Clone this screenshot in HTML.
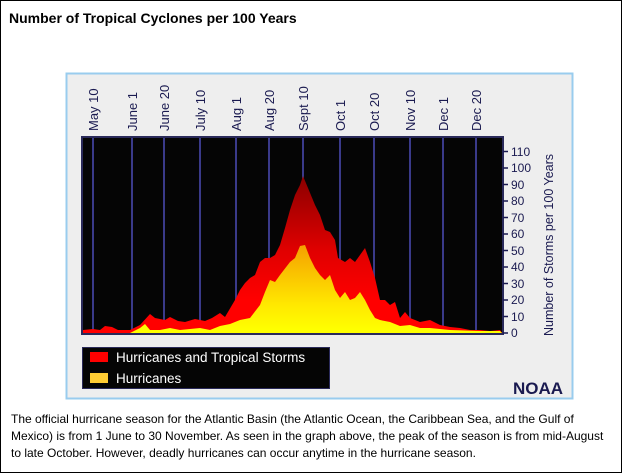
<!DOCTYPE html>
<html><head><style>
body{margin:0;width:622px;height:473px;overflow:hidden;background:#fff;font-family:"Liberation Sans",sans-serif}
#f{position:absolute;left:0;top:0;width:620px;height:471px;border:1px solid #000}
</style></head><body><div id="f"></div>
<svg width="622" height="473" style="position:absolute;left:0;top:0" font-family="Liberation Sans, sans-serif">
<text x="9" y="23" font-size="14" font-weight="bold" fill="#000">Number of Tropical Cyclones per 100 Years</text>
<rect x="66.5" y="73.5" width="506" height="325" fill="#eeeeee" stroke="#99ccee" stroke-width="2"/>
<rect x="82" y="137" width="421" height="197" fill="#050505"/>
<defs>
<linearGradient id="r" gradientUnits="userSpaceOnUse" x1="0" y1="176" x2="0" y2="300"><stop offset="0" stop-color="#8a0000"/><stop offset="0.6" stop-color="#e00000"/><stop offset="1" stop-color="#ff0000"/></linearGradient>
<linearGradient id="y" gradientUnits="userSpaceOnUse" x1="0" y1="245" x2="0" y2="330"><stop offset="0" stop-color="#f5a000"/><stop offset="0.7" stop-color="#ffe800"/><stop offset="1" stop-color="#ffff00"/></linearGradient>
</defs>
<g stroke="#3a3a8a" stroke-width="2">
<line x1="93" y1="137" x2="93" y2="334"/><line x1="132" y1="137" x2="132" y2="334"/><line x1="164" y1="137" x2="164" y2="334"/><line x1="200" y1="137" x2="200" y2="334"/><line x1="236" y1="137" x2="236" y2="334"/><line x1="269" y1="137" x2="269" y2="334"/><line x1="303" y1="137" x2="303" y2="334"/><line x1="340" y1="137" x2="340" y2="334"/><line x1="374" y1="137" x2="374" y2="334"/><line x1="410" y1="137" x2="410" y2="334"/><line x1="443" y1="137" x2="443" y2="334"/><line x1="476" y1="137" x2="476" y2="334"/>
</g>
<polygon fill="url(#r)" points="83,334 83,330 93,329 100,330 105,326 112,327 118,330 130,330 140,325 150,314 155,318 165,320 170,317 178,321 185,322 195,319 205,321 212,318 220,313 225,317 235,300 240,290 245,283 250,278 255,275 260,262 265,258 270,258 275,255 280,245 285,228 290,210 295,195 300,185 303,176 308,188 315,205 320,215 325,230 330,232 335,240 338,258 345,262 350,258 355,262 360,255 365,248 370,262 375,278 380,300 385,300 390,305 395,302 400,318 405,312 410,318 420,322 430,320 440,325 450,327 460,328 470,330 480,330 490,331 500,330 503,334"/>
<polygon fill="url(#y)" points="83,334 130,333 140,328 145,324 150,330 160,330 170,328 180,330 200,328 210,330 220,326 230,324 240,320 250,318 260,305 265,292 270,280 275,282 280,275 290,262 295,258 300,246 305,245 310,258 315,268 320,275 325,280 330,275 335,290 340,298 345,292 350,300 355,298 360,292 365,300 370,310 375,318 380,320 390,322 400,326 410,325 420,328 430,328 450,330 480,331 500,331 503,334"/>
<rect x="82" y="137" width="421" height="197" fill="none" stroke="#2a2a5a" stroke-width="2"/>
<g font-size="13" fill="#1a1a50">
<text transform="translate(98,131) rotate(-90)">May 10</text>
<text transform="translate(137,131) rotate(-90)">June 1</text>
<text transform="translate(169,131) rotate(-90)">June 20</text>
<text transform="translate(205,131) rotate(-90)">July 10</text>
<text transform="translate(241,131) rotate(-90)">Aug 1</text>
<text transform="translate(274,131) rotate(-90)">Aug 20</text>
<text transform="translate(308,131) rotate(-90)">Sept 10</text>
<text transform="translate(345,131) rotate(-90)">Oct 1</text>
<text transform="translate(379,131) rotate(-90)">Oct 20</text>
<text transform="translate(415,131) rotate(-90)">Nov 10</text>
<text transform="translate(448,131) rotate(-90)">Dec 1</text>
<text transform="translate(481,131) rotate(-90)">Dec 20</text>
</g>
<g font-size="12" fill="#1a1a50" stroke="#1a1a50">
<g stroke-width="1.5">
<line x1="503" y1="333" x2="508" y2="333"/><line x1="503" y1="316.5" x2="508" y2="316.5"/><line x1="503" y1="300" x2="508" y2="300"/><line x1="503" y1="283.5" x2="508" y2="283.5"/><line x1="503" y1="267" x2="508" y2="267"/><line x1="503" y1="250.5" x2="508" y2="250.5"/><line x1="503" y1="234" x2="508" y2="234"/><line x1="503" y1="217.5" x2="508" y2="217.5"/><line x1="503" y1="201" x2="508" y2="201"/><line x1="503" y1="184.5" x2="508" y2="184.5"/><line x1="503" y1="168" x2="508" y2="168"/><line x1="503" y1="151.5" x2="508" y2="151.5"/>
</g>
<g stroke="none">
<text x="511" y="337">0</text><text x="511" y="321">10</text><text x="511" y="304">20</text><text x="511" y="288">30</text><text x="511" y="271">40</text><text x="511" y="255">50</text><text x="511" y="238">60</text><text x="511" y="222">70</text><text x="511" y="205">80</text><text x="511" y="189">90</text><text x="511" y="172">100</text><text x="511" y="156">110</text>
<text transform="translate(553,336) rotate(-90)" font-size="12.5">Number of Storms per 100 Years</text>
<text x="513" y="394" font-size="17" font-weight="bold">NOAA</text>
</g>
</g>
<rect x="82.5" y="347.5" width="247" height="41" fill="#050505" stroke="#2a2a5a"/>
<rect x="90" y="352" width="18" height="10" fill="#ff0000"/>
<rect x="90" y="373" width="18" height="10" fill="#ffcc33"/>
<text x="116" y="362" font-size="13.5" fill="#fff">Hurricanes and Tropical Storms</text>
<text x="116" y="383" font-size="13.5" fill="#fff">Hurricanes</text>
<g font-size="12" fill="#000">
<text x="11" y="423">The official hurricane season for the Atlantic Basin (the Atlantic Ocean, the Caribbean Sea, and the Gulf of</text>
<text x="11" y="440">Mexico) is from 1 June to 30 November. As seen in the graph above, the peak of the season is from mid-August</text>
<text x="11" y="457">to late October. However, deadly hurricanes can occur anytime in the hurricane season.</text>
</g>
</svg>
</body></html>
